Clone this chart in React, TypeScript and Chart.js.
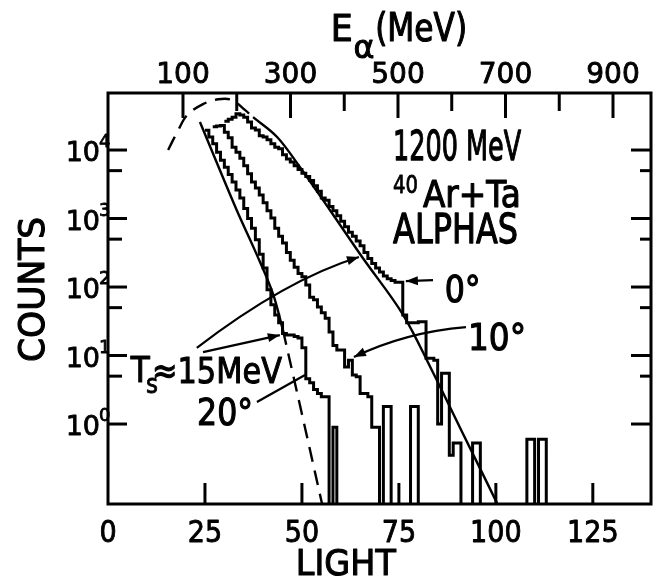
import React, { useEffect, useRef } from "react";
import { Chart, registerables } from "chart.js";

Chart.register(...registerables);

// ---------- axis ranges ----------
const LIGHT_MIN = 0;
const LIGHT_MAX = 140;
const E_MIN = -39.5; // alpha energy (MeV) at LIGHT_MIN
const E_MAX = 970.7; // alpha energy (MeV) at LIGHT_MAX
const COUNTS_MIN = 0.068;
const COUNTS_MAX = 68000;

// ---------- ticks ----------
const LIGHT_TICKS = [0, 25, 50, 75, 100, 125];
const E_TICKS = [100, 200, 300, 400, 500, 600, 700, 800, 900];
const E_LABELS = [100, 300, 500, 700, 900];
const COUNT_MAJOR = [1, 10, 100, 1000, 10000];
const COUNT_MINOR = [5, 50, 500, 5000];

// ---------- spectra: counts per unit light bin, starting at the given bin edge ----------
const START_0 = 30;
const COUNTS_0 = [
  26300, 28200, 30200, 33900, 32400, 30200, 25700, 20900, 19600, 16200,
  15500, 14100, 12300, 11000, 10400, 8500, 7400, 6700, 5900, 5200,
  4600, 4100, 3600, 3000, 2500, 2000, 1850, 1500, 1300, 1100,
  910, 760, 630, 550, 470, 400, 320, 260, 220, 190,
  166, 145, 132, 125, 117, 117, 39, 30, 30, 30,
  31, 31, 9.1, 9.1, 8.5, 1.0, 5.5, 5.5, 0.35, 0.53,
  0.53, 0, 0, 0, 0.53, 0.53, 0, 0, 0, 0,
  0, 0, 0, 0, 0, 0, 0, 0, 0.6, 0.6,
  0, 0.6, 0.6, 0,
];

const START_10 = 27;
const COUNTS_10 = [
  21900, 22400, 22900, 18200, 15100, 11000, 9300, 7600, 5900, 4500,
  3400, 2800, 2200, 1700, 1300, 1020, 720, 550, 440, 320,
  245, 195, 158, 141, 107, 71, 65, 51, 42, 35,
  22, 14, 12, 12, 6.8, 8.5, 5.2, 4.9, 2.8, 2.8,
  2.5, 0.9, 0.9, 0, 1.8, 1.8, 0, 0, 0, 0,
  0, 1.8, 1.8, 0,
];

const START_20 = 25;
const COUNTS_20 = [
  19500, 15500, 12300, 9300, 7100, 5600, 4400, 3400, 2600, 2000,
  1400, 1000, 720, 490, 300, 190, 91, 55, 39, 30,
  21, 20, 20, 19, 18, 13, 4.6, 4.0, 3.2, 2.8,
  2.5, 2.5, 0, 0.9, 0,
];

// ---------- moving-source fits ----------
const FIT0_LOW_LIGHT = [15.5, 18.0, 20.4, 24.5, 28.4, 32.0, 35.3, 37.4];
const FIT0_LOW_COUNTS = [10000, 19000, 32400, 46800, 55000, 53700, 38500, 30200];
const FIT0_LIGHT = [37.4, 43.6, 49.5, 57.2, 65.7, 76.0, 83.5, 90.7, 100.3];
const FIT0_COUNTS = [30200, 15500, 5600, 1330, 265, 40, 6.1, 0.9, 0.07];
const FIT20_LIGHT = [23.7, 33.2, 37.9, 42.5, 45.1];
const FIT20_COUNTS = [25700, 1320, 340, 81, 23.6];
const FIT20_TAIL_LIGHT = [45.1, 50.0, 55.2];
const FIT20_TAIL_COUNTS = [23.6, 1.4, 0.068];

// ---------- pointer lines (light, counts) ----------
const PTR_0 = [[83.8, 126], [76.8, 122]];
const PTR_10 = [[92.3, 26], [76.8, 22], [63.4, 9.5]];
const PTR_TS_A = [[22.9, 12.9], [45.6, 126], [64.7, 274]];
const PTR_TS_B = [[24.5, 11.2], [44.3, 19.9]];
const PTR_20 = [[38.4, 2.1], [50.8, 5.2]];

const FLOOR = 0.01; // empty bins drop below the axis

const FONT = "'DejaVu Sans', 'Liberation Sans', sans-serif";

function histPoints(start: number, counts: number[]) {
  return counts.map((c, i) => ({ x: start + i, y: c > 0 ? c : FLOOR }));
}

function curvePoints(ls: number[], vs: number[]) {
  return ls.map((l, i) => ({ x: l, y: vs[i] }));
}

type TextOpts = { width?: number; sx?: number; align?: CanvasTextAlign };

// lettering: filled glyphs with a thin outline for the heavy pen weight
function drawText(
  ctx: CanvasRenderingContext2D,
  str: string,
  x: number,
  y: number,
  size: number,
  opts: TextOpts = {}
) {
  ctx.font = `${size}px ${FONT}`;
  const w = ctx.measureText(str).width;
  const sx = opts.width ? opts.width / w : opts.sx ?? 1;
  ctx.save();
  ctx.translate(x, y);
  ctx.scale(sx, 1);
  ctx.textAlign = opts.align ?? "left";
  ctx.textBaseline = "alphabetic";
  ctx.lineJoin = "round";
  ctx.lineWidth = Math.max(0.8, size / 32);
  ctx.fillText(str, 0, 0);
  ctx.strokeText(str, 0, 0);
  ctx.restore();
}

function arrowHead(
  ctx: CanvasRenderingContext2D,
  fx: number,
  fy: number,
  tx: number,
  ty: number
) {
  const ang = Math.atan2(ty - fy, tx - fx);
  const len = 12;
  const half = 4.5;
  const bx = tx - len * Math.cos(ang);
  const by = ty - len * Math.sin(ang);
  ctx.beginPath();
  ctx.moveTo(tx, ty);
  ctx.lineTo(bx + half * Math.sin(ang), by - half * Math.cos(ang));
  ctx.lineTo(bx - half * Math.sin(ang), by + half * Math.cos(ang));
  ctx.closePath();
  ctx.fill();
}

const paperPlugin = {
  id: "paper",
  afterDatasetsDraw(chart: any) {
    const { ctx, chartArea: a, scales } = chart;
    const xs = scales.x;
    const ys = scales.y;
    const es = scales.xTop;
    const P = (p: number[]) => [xs.getPixelForValue(p[0]), ys.getPixelForValue(p[1])];
    const W = a.right - a.left;
    const H = a.bottom - a.top;
    const at = (fx: number, fy: number) => [a.left + fx * W, a.top + fy * H];

    ctx.save();
    ctx.strokeStyle = "#000";
    ctx.fillStyle = "#000";
    ctx.lineCap = "butt";

    const seg = (x1: number, y1: number, x2: number, y2: number) => {
      ctx.beginPath();
      ctx.moveTo(x1, y1);
      ctx.lineTo(x2, y2);
      ctx.stroke();
    };

    // frame
    ctx.lineWidth = 3;
    ctx.strokeRect(a.left, a.top, W, H);

    // bottom ticks + labels
    for (const t of LIGHT_TICKS) {
      const px = xs.getPixelForValue(t);
      ctx.lineWidth = 3;
      if (t > 0) seg(px, a.bottom, px, a.bottom - 21);
      drawText(ctx, String(t), px, a.bottom + 38, 30, { sx: 0.9, align: "center" });
    }

    // top ticks + labels
    for (const e of E_TICKS) {
      const px = es.getPixelForValue(e);
      const major = E_LABELS.includes(e);
      ctx.lineWidth = 3;
      seg(px, a.top, px, a.top + (major ? 25 : 18));
      if (major) drawText(ctx, String(e), px, a.top - 10, 28, { align: "center" });
    }

    // left / right ticks
    for (const v of COUNT_MAJOR) {
      const py = ys.getPixelForValue(v);
      ctx.lineWidth = 3;
      seg(a.left, py, a.left + 19, py);
      seg(a.right, py, a.right - 20, py);
      drawText(ctx, "10", a.left - 8, py + 11, 27, { align: "right" });
      drawText(ctx, String(Math.round(Math.log10(v))), a.left - 9, py - 3, 18);
    }
    for (const v of COUNT_MINOR) {
      const py = ys.getPixelForValue(v);
      ctx.lineWidth = 3;
      seg(a.left, py, a.left + 14, py);
      seg(a.right, py, a.right - 11, py);
    }

    // axis titles
    let p = at(0.41, -0.127);
    drawText(ctx, "E", p[0], p[1], 38, { width: 22 });
    p = at(0.452, -0.085);
    drawText(ctx, "α", p[0], p[1], 32, { width: 21 });
    p = at(0.492, -0.127);
    drawText(ctx, "(MeV)", p[0], p[1], 39, { width: 92 });

    p = at(0.438, 1.172);
    drawText(ctx, "LIGHT", p[0], p[1], 36, { width: 100, align: "center" });

    ctx.save();
    p = at(-0.142, 0.478);
    ctx.translate(p[0], p[1]);
    ctx.rotate(-Math.PI / 2);
    drawText(ctx, "COUNTS", 0, 13, 35, { width: 145, align: "center" });
    ctx.restore();

    // in-plot annotations
    p = at(0.525, 0.163);
    drawText(ctx, "1200 MeV", p[0], p[1], 41, { width: 128 });
    p = at(0.525, 0.243);
    drawText(ctx, "40", p[0], p[1], 24, { width: 25 });
    p = at(0.58, 0.277);
    drawText(ctx, "Ar+Ta", p[0], p[1], 37, { width: 98 });
    p = at(0.525, 0.365);
    drawText(ctx, "ALPHAS", p[0], p[1], 41, { width: 125 });
    p = at(0.62, 0.509);
    drawText(ctx, "0°", p[0], p[1], 37, { width: 36 });
    p = at(0.663, 0.625);
    drawText(ctx, "10°", p[0], p[1], 37, { width: 58 });
    p = at(0.042, 0.703);
    drawText(ctx, "T", p[0], p[1], 36, { width: 19 });
    p = at(0.07, 0.73);
    drawText(ctx, "s", p[0], p[1], 26, { width: 12 });
    p = at(0.081, 0.705);
    drawText(ctx, "≈15MeV", p[0], p[1], 36, { width: 130 });
    p = at(0.164, 0.808);
    drawText(ctx, "20°", p[0], p[1], 37, { width: 56 });

    // pointer lines
    ctx.lineWidth = 2.2;
    let s = P(PTR_0[0]);
    let e = P(PTR_0[1]);
    seg(s[0], s[1], e[0], e[1]);
    arrowHead(ctx, s[0], s[1], e[0], e[1]);

    const curved = (pts: number[][]) => {
      const a0 = P(pts[0]);
      const c = P(pts[1]);
      const b = P(pts[2]);
      ctx.beginPath();
      ctx.moveTo(a0[0], a0[1]);
      ctx.quadraticCurveTo(c[0], c[1], b[0], b[1]);
      ctx.stroke();
      arrowHead(ctx, c[0], c[1], b[0], b[1]);
    };
    curved(PTR_10);
    curved(PTR_TS_A);

    s = P(PTR_TS_B[0]);
    e = P(PTR_TS_B[1]);
    seg(s[0], s[1], e[0], e[1]);
    arrowHead(ctx, s[0], s[1], e[0], e[1]);

    s = P(PTR_20[0]);
    e = P(PTR_20[1]);
    seg(s[0], s[1], e[0], e[1]);

    ctx.restore();
  },
};

export default function App() {
  const ref = useRef<HTMLCanvasElement | null>(null);

  useEffect(() => {
    if (!ref.current) return;
    const hist = (pts: any[]) => ({
      data: pts,
      borderColor: "#000",
      borderWidth: 3,
      stepped: true,
      pointRadius: 0,
      fill: false,
    });
    const fit = (pts: any[], dashed: boolean) => ({
      data: pts,
      borderColor: "#000",
      borderWidth: 2.4,
      borderDash: dashed ? [15, 9] : [],
      tension: 0.35,
      pointRadius: 0,
      fill: false,
    });

    const chart = new Chart(ref.current, {
      type: "line",
      data: {
        datasets: [
          fit(curvePoints(FIT0_LOW_LIGHT, FIT0_LOW_COUNTS), true),
          fit(curvePoints(FIT0_LIGHT, FIT0_COUNTS), false),
          fit(curvePoints(FIT20_LIGHT, FIT20_COUNTS), false),
          fit(curvePoints(FIT20_TAIL_LIGHT, FIT20_TAIL_COUNTS), true),
          hist(histPoints(START_0, COUNTS_0)),
          hist(histPoints(START_10, COUNTS_10)),
          hist(histPoints(START_20, COUNTS_20)),
        ] as any,
      },
      options: {
        animation: false,
        responsive: false,
        devicePixelRatio: 1,
        layout: { padding: { left: 108, right: 10, top: 93, bottom: 75 } },
        plugins: { legend: { display: false }, tooltip: { enabled: false } },
        scales: {
          x: { type: "linear", display: false, min: LIGHT_MIN, max: LIGHT_MAX },
          xTop: { type: "linear", display: false, position: "top", min: E_MIN, max: E_MAX },
          y: { type: "logarithmic", display: false, min: COUNTS_MIN, max: COUNTS_MAX },
        },
      } as any,
      plugins: [paperPlugin],
    });
    return () => chart.destroy();
  }, []);

  return (
    <div style={{ position: "fixed", left: 0, top: 0, width: 661, height: 579, background: "#fff" }}>
      <canvas ref={ref} width={661} height={579} />
    </div>
  );
}
